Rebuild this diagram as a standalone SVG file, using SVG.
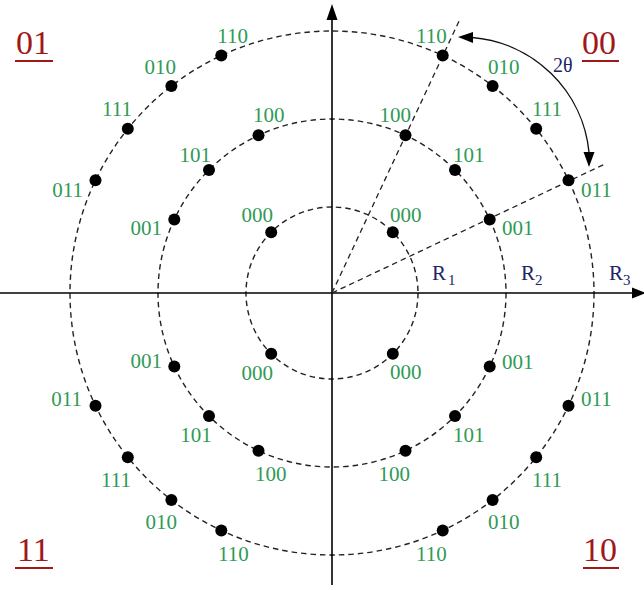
<svg xmlns="http://www.w3.org/2000/svg" width="644" height="590" viewBox="0 0 644 590">
<style>
.ring{fill:none;stroke:#222;stroke-width:1.4;stroke-dasharray:5.5 4}
.ray{fill:none;stroke:#222;stroke-width:1.3;stroke-dasharray:5.5 4}
.axis{fill:none;stroke:#000;stroke-width:1.6}
.dot{fill:#000}
.lb{font-family:"Liberation Serif","Times New Roman",serif;font-size:21px;fill:#2f9a56}
.q{font-family:"Liberation Serif","Times New Roman",serif;font-size:34px;fill:#a01818}
.ul{stroke:#a01818;stroke-width:1.8}
.r{font-family:"Liberation Serif","Times New Roman",serif;font-size:21px;fill:#1c2466}
.s{font-size:15px}
.e{text-anchor:end}
.m{text-anchor:middle}
</style>
<rect width="644" height="590" fill="#fff"/>
<g id="rings">
<circle class="ring" cx="332" cy="293" r="86"/>
<circle class="ring" cx="332" cy="293" r="174"/>
<circle class="ring" cx="332" cy="293" r="262"/>
</g>
<g id="connectors">
<line class="axis" x1="0" y1="293" x2="634" y2="293"/>
<polygon points="646,293 632,287.5 632,298.5" fill="#000"/>
<line class="axis" x1="332" y1="585" x2="332" y2="18"/>
<polygon points="332,4 326.5,20 337.5,20" fill="#000"/>
<line class="ray" x1="332" y1="293" x2="460" y2="19"/>
<line class="ray" x1="332" y1="293" x2="606" y2="163.5"/>
<path d="M 472 37.5 A 128 128 0 0 1 589 152" fill="none" stroke="#111" stroke-width="1.4"/>
<polygon points="458,37 473,32 473,43" fill="#000"/>
<polygon points="589,167 583.5,152 594.5,152" fill="#000"/>
</g>
<g id="labels-axes">
<text class="r" x="432" y="280">R<tspan class="s" dx="2" dy="5">1</tspan></text>
<text class="r" x="521" y="280">R<tspan class="s" dy="5">2</tspan></text>
<text class="r" x="609" y="280">R<tspan class="s" dy="5">3</tspan></text>
<text class="r" x="553" y="72" style="font-size:20px">2θ</text>
</g>
<g id="q01"><text class="q" x="16" y="54">01</text><line class="ul" x1="15" y1="61" x2="53" y2="61"/></g>
<g id="q00"><text class="q" x="582" y="54">00</text><line class="ul" x1="582" y1="61" x2="619" y2="61"/></g>
<g id="q11"><text class="q" x="17" y="561">11</text><line class="ul" x1="15" y1="568" x2="53" y2="568"/></g>
<g id="q10"><text class="q" x="583" y="561">10</text><line class="ul" x1="583" y1="568" x2="619" y2="568"/></g>

<!-- upper right -->
<g id="ur-000"><circle class="dot" cx="392.8" cy="232.2" r="6"/><text class="lb" x="390" y="222">000</text></g>
<g id="ur-001"><circle class="dot" cx="489.7" cy="219.5" r="6"/><text class="lb" x="502" y="235">001</text></g>
<g id="ur-101"><circle class="dot" cx="455" cy="170" r="6"/><text class="lb" x="453" y="162">101</text></g>
<g id="ur-100"><circle class="dot" cx="405.5" cy="135.3" r="6"/><text class="lb e" x="411" y="122">100</text></g>
<g id="ur-011"><circle class="dot" cx="568.5" cy="180.2" r="6"/><text class="lb" x="581" y="197">011</text></g>
<g id="ur-111"><circle class="dot" cx="536.2" cy="128.8" r="6"/><text class="lb m" x="547" y="116">111</text></g>
<g id="ur-010"><circle class="dot" cx="492.6" cy="86" r="6"/><text class="lb" x="488" y="74">010</text></g>
<g id="ur-110"><circle class="dot" cx="442.7" cy="55.5" r="6"/><text class="lb" x="416" y="43">110</text></g>

<!-- upper left -->
<g id="ul-000"><circle class="dot" cx="271.2" cy="232.2" r="6"/><text class="lb e" x="273" y="222">000</text></g>
<g id="ul-001"><circle class="dot" cx="174.3" cy="219.5" r="6"/><text class="lb e" x="162" y="235">001</text></g>
<g id="ul-101"><circle class="dot" cx="209" cy="170" r="6"/><text class="lb e" x="211" y="162">101</text></g>
<g id="ul-100"><circle class="dot" cx="258.5" cy="135.3" r="6"/><text class="lb" x="253" y="122">100</text></g>
<g id="ul-011"><circle class="dot" cx="95.5" cy="180.2" r="6"/><text class="lb e" x="83" y="197">011</text></g>
<g id="ul-111"><circle class="dot" cx="127.8" cy="128.8" r="6"/><text class="lb m" x="117" y="116">111</text></g>
<g id="ul-010"><circle class="dot" cx="171.4" cy="86" r="6"/><text class="lb e" x="176" y="74">010</text></g>
<g id="ul-110"><circle class="dot" cx="221.3" cy="55.5" r="6"/><text class="lb e" x="248" y="43">110</text></g>

<!-- lower left -->
<g id="ll-000"><circle class="dot" cx="271.2" cy="353.8" r="6"/><text class="lb e" x="273" y="380">000</text></g>
<g id="ll-001"><circle class="dot" cx="174.3" cy="366.5" r="6"/><text class="lb e" x="162" y="368">001</text></g>
<g id="ll-101"><circle class="dot" cx="209" cy="416" r="6"/><text class="lb m" x="196" y="442">101</text></g>
<g id="ll-100"><circle class="dot" cx="258.5" cy="450.7" r="6"/><text class="lb" x="255" y="481">100</text></g>
<g id="ll-011"><circle class="dot" cx="95.5" cy="405.8" r="6"/><text class="lb e" x="82" y="406">011</text></g>
<g id="ll-111"><circle class="dot" cx="127.8" cy="457.2" r="6"/><text class="lb m" x="116" y="487">111</text></g>
<g id="ll-010"><circle class="dot" cx="171.4" cy="500" r="6"/><text class="lb e" x="177" y="529">010</text></g>
<g id="ll-110"><circle class="dot" cx="221.3" cy="530.5" r="6"/><text class="lb" x="218" y="561">110</text></g>

<!-- lower right -->
<g id="lr-000"><circle class="dot" cx="392.8" cy="353.8" r="6"/><text class="lb" x="390" y="379">000</text></g>
<g id="lr-001"><circle class="dot" cx="489.7" cy="366.5" r="6"/><text class="lb" x="502" y="369">001</text></g>
<g id="lr-101"><circle class="dot" cx="455" cy="416" r="6"/><text class="lb" x="453" y="442">101</text></g>
<g id="lr-100"><circle class="dot" cx="405.5" cy="450.7" r="6"/><text class="lb e" x="410" y="481">100</text></g>
<g id="lr-011"><circle class="dot" cx="568.5" cy="405.8" r="6"/><text class="lb" x="581" y="406">011</text></g>
<g id="lr-111"><circle class="dot" cx="536.2" cy="457.2" r="6"/><text class="lb m" x="547" y="487">111</text></g>
<g id="lr-010"><circle class="dot" cx="492.6" cy="500" r="6"/><text class="lb" x="488" y="529">010</text></g>
<g id="lr-110"><circle class="dot" cx="442.7" cy="530.5" r="6"/><text class="lb" x="416" y="561">110</text></g>
</svg>
